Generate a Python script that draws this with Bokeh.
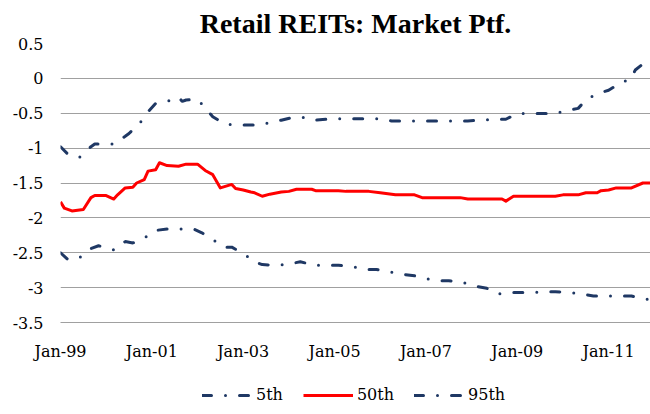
from bokeh.plotting import figure
from bokeh.layouts import column
from bokeh.models import Range1d, FixedTicker, NumeralTickFormatter, Legend, LegendItem
from bokeh.embed import file_html
from bokeh.resources import INLINE

# x positions are month indices counted from Jan-99
tick_months = [0, 24, 48, 72, 96, 120, 144]
tick_labels = ["Jan-99", "Jan-01", "Jan-03", "Jan-05", "Jan-07", "Jan-09", "Jan-11"]

p95_months = [0, 2, 5, 8, 9, 14, 17, 18, 21, 23, 25, 28, 31, 32, 33, 36, 38, 40, 43, 46, 49, 52,
              56, 58, 61, 65, 67, 71, 76, 81, 84, 87, 91, 97, 101, 107, 110, 114, 117, 120, 126,
              130, 133, 136, 138, 141, 144, 147, 150, 151, 154, 155]
p95_values = [-0.98, -1.09, -1.13, -0.98, -0.94, -0.94, -0.83, -0.79, -0.63, -0.48, -0.36, -0.33,
              -0.27, -0.33, -0.31, -0.30, -0.42, -0.55, -0.65, -0.67, -0.67, -0.67, -0.62, -0.60,
              -0.56, -0.56, -0.60, -0.58, -0.58, -0.58, -0.58, -0.61, -0.61, -0.61, -0.61, -0.61,
              -0.60, -0.59, -0.586, -0.505, -0.505, -0.505, -0.46, -0.43, -0.31, -0.22, -0.17,
              -0.07, 0.00, 0.12, 0.25, 0.27]

p50_months = [0, 1, 3, 6, 8, 9, 12, 14, 15, 17, 19, 20, 22, 23, 25, 26, 28, 31, 33, 36, 38, 40,
              42, 45, 46, 48, 50, 51, 53, 55, 58, 60, 62, 66, 67, 73, 75, 81, 84, 88, 93, 95, 105,
              107, 116, 117, 119, 130, 132, 136, 138, 141, 142, 144, 146, 150, 153, 155]
p50_values = [-1.77, -1.86, -1.90, -1.88, -1.71, -1.68, -1.68, -1.73, -1.67, -1.57, -1.56, -1.50,
              -1.45, -1.33, -1.31, -1.21, -1.25, -1.26, -1.23, -1.23, -1.32, -1.38, -1.57, -1.52,
              -1.58, -1.60, -1.63, -1.64, -1.69, -1.66, -1.63, -1.62, -1.59, -1.59, -1.61, -1.61,
              -1.62, -1.62, -1.64, -1.67, -1.67, -1.71, -1.71, -1.73, -1.73, -1.76, -1.69, -1.69,
              -1.67, -1.67, -1.64, -1.64, -1.61, -1.60, -1.57, -1.57, -1.50, -1.50]

p5_months = [0, 2, 5, 8, 10, 14, 17, 19, 22, 25, 28, 31, 35, 37, 40, 43, 45, 48, 51, 53, 57, 60,
             63, 67, 73, 75, 77, 80, 83, 86, 90, 93, 96, 99, 102, 106, 109, 112, 115, 118, 121,
             124, 127, 130, 134, 137, 140, 143, 147, 150, 153, 155]
p5_values = [-2.50, -2.60, -2.57, -2.44, -2.40, -2.46, -2.34, -2.36, -2.29, -2.18, -2.16, -2.16,
             -2.16, -2.21, -2.31, -2.42, -2.42, -2.51, -2.63, -2.67, -2.68, -2.66, -2.63, -2.68,
             -2.68, -2.69, -2.70, -2.74, -2.74, -2.77, -2.81, -2.83, -2.87, -2.90, -2.90, -2.93,
             -2.98, -3.01, -3.09, -3.07, -3.07, -3.07, -3.06, -3.06, -3.07, -3.09, -3.12, -3.12,
             -3.12, -3.12, -3.16, -3.17]

series_labels = ["5th", "50th", "95th"]
y_ticks = [-3.5, -3, -2.5, -2, -1.5, -1, -0.5, 0, 0.5]

NAVY = "#1F3864"
RED = "#FF0000"
GRID = "#A0A0A0"
DASH = "9 14 0 14"

p = figure(frame_width=590, frame_height=279, output_backend="svg", toolbar_location=None,
           x_range=Range1d(0, 155), y_range=Range1d(-3.5, 0.5),
           min_border_left=60, min_border_right=0, min_border_top=37, min_border_bottom=40)

p.title.text = "Retail REITs: Market Ptf."
p.title.align = "center"
p.title.offset = -6
p.title.text_font = "Liberation Serif"
p.title.text_font_style = "bold"
p.title.text_font_size = "28px"
p.title.text_color = "#000000"

p.outline_line_color = None
p.xgrid.visible = False
p.ygrid.grid_line_color = GRID
p.ygrid.grid_line_width = 1
p.ygrid.ticker = FixedTicker(ticks=y_ticks)

p.yaxis.ticker = FixedTicker(ticks=y_ticks)
p.yaxis.formatter = NumeralTickFormatter(format="0.[0]")
p.yaxis.axis_line_color = None
p.yaxis.major_tick_line_color = None
p.yaxis.minor_tick_line_color = None
p.yaxis.major_tick_out = 0
p.yaxis.minor_tick_out = 0
p.yaxis.major_label_standoff = 17
p.yaxis.major_label_text_font = "DejaVu Serif"
p.yaxis.major_label_text_font_size = "16px"
p.yaxis.major_label_text_color = "#000000"

p.xaxis.ticker = FixedTicker(ticks=tick_months)
p.xaxis.major_label_overrides = {m: lab for m, lab in zip(tick_months, tick_labels)}
p.xaxis.axis_line_color = GRID
p.xaxis.major_tick_line_color = None
p.xaxis.minor_tick_line_color = None
p.xaxis.major_tick_out = 0
p.xaxis.minor_tick_out = 0
p.xaxis.major_label_standoff = 19
p.xaxis.major_label_text_font = "DejaVu Serif"
p.xaxis.major_label_text_font_size = "16px"
p.xaxis.major_label_text_color = "#000000"

p.line(p5_months, p5_values, line_color=NAVY, line_width=3, line_dash=DASH, line_cap="round")
p.line(p50_months, p50_values, line_color=RED, line_width=3, line_join="round")
p.line(p95_months, p95_values, line_color=NAVY, line_width=3, line_dash=DASH, line_cap="round")

# legend strip below the chart (glyph renderers sit outside the strip's ranges)
q = figure(width=650, height=42, output_backend="svg", toolbar_location=None, title=None,
           x_range=Range1d(0, 1), y_range=Range1d(0, 1),
           x_axis_location=None, y_axis_location=None,
           min_border_left=0, min_border_right=0, min_border_top=0, min_border_bottom=0)
q.outline_line_color = None
q.grid.visible = False
l5 = q.line([-5, -4], [-5, -4], line_color=NAVY, line_width=3, line_dash=DASH, line_cap="round")
l50 = q.line([-5, -4], [-5, -4], line_color=RED, line_width=3)
l95 = q.line([-5, -4], [-5, -4], line_color=NAVY, line_width=3, line_dash=DASH, line_cap="round")

legend = Legend(items=[LegendItem(label=series_labels[0], renderers=[l5]),
                       LegendItem(label=series_labels[1], renderers=[l50]),
                       LegendItem(label=series_labels[2], renderers=[l95])],
                orientation="horizontal", location=(142, 1),
                border_line_color=None, background_fill_alpha=0,
                label_text_font="DejaVu Serif", label_text_font_size="16px",
                label_text_color="#000000",
                glyph_width=50, glyph_height=16, label_standoff=4, spacing=20,
                margin=0, padding=0)
q.add_layout(legend, "center")

layout = column(p, q, spacing=0)
open("out.html", "w").write(file_html(layout, INLINE))
